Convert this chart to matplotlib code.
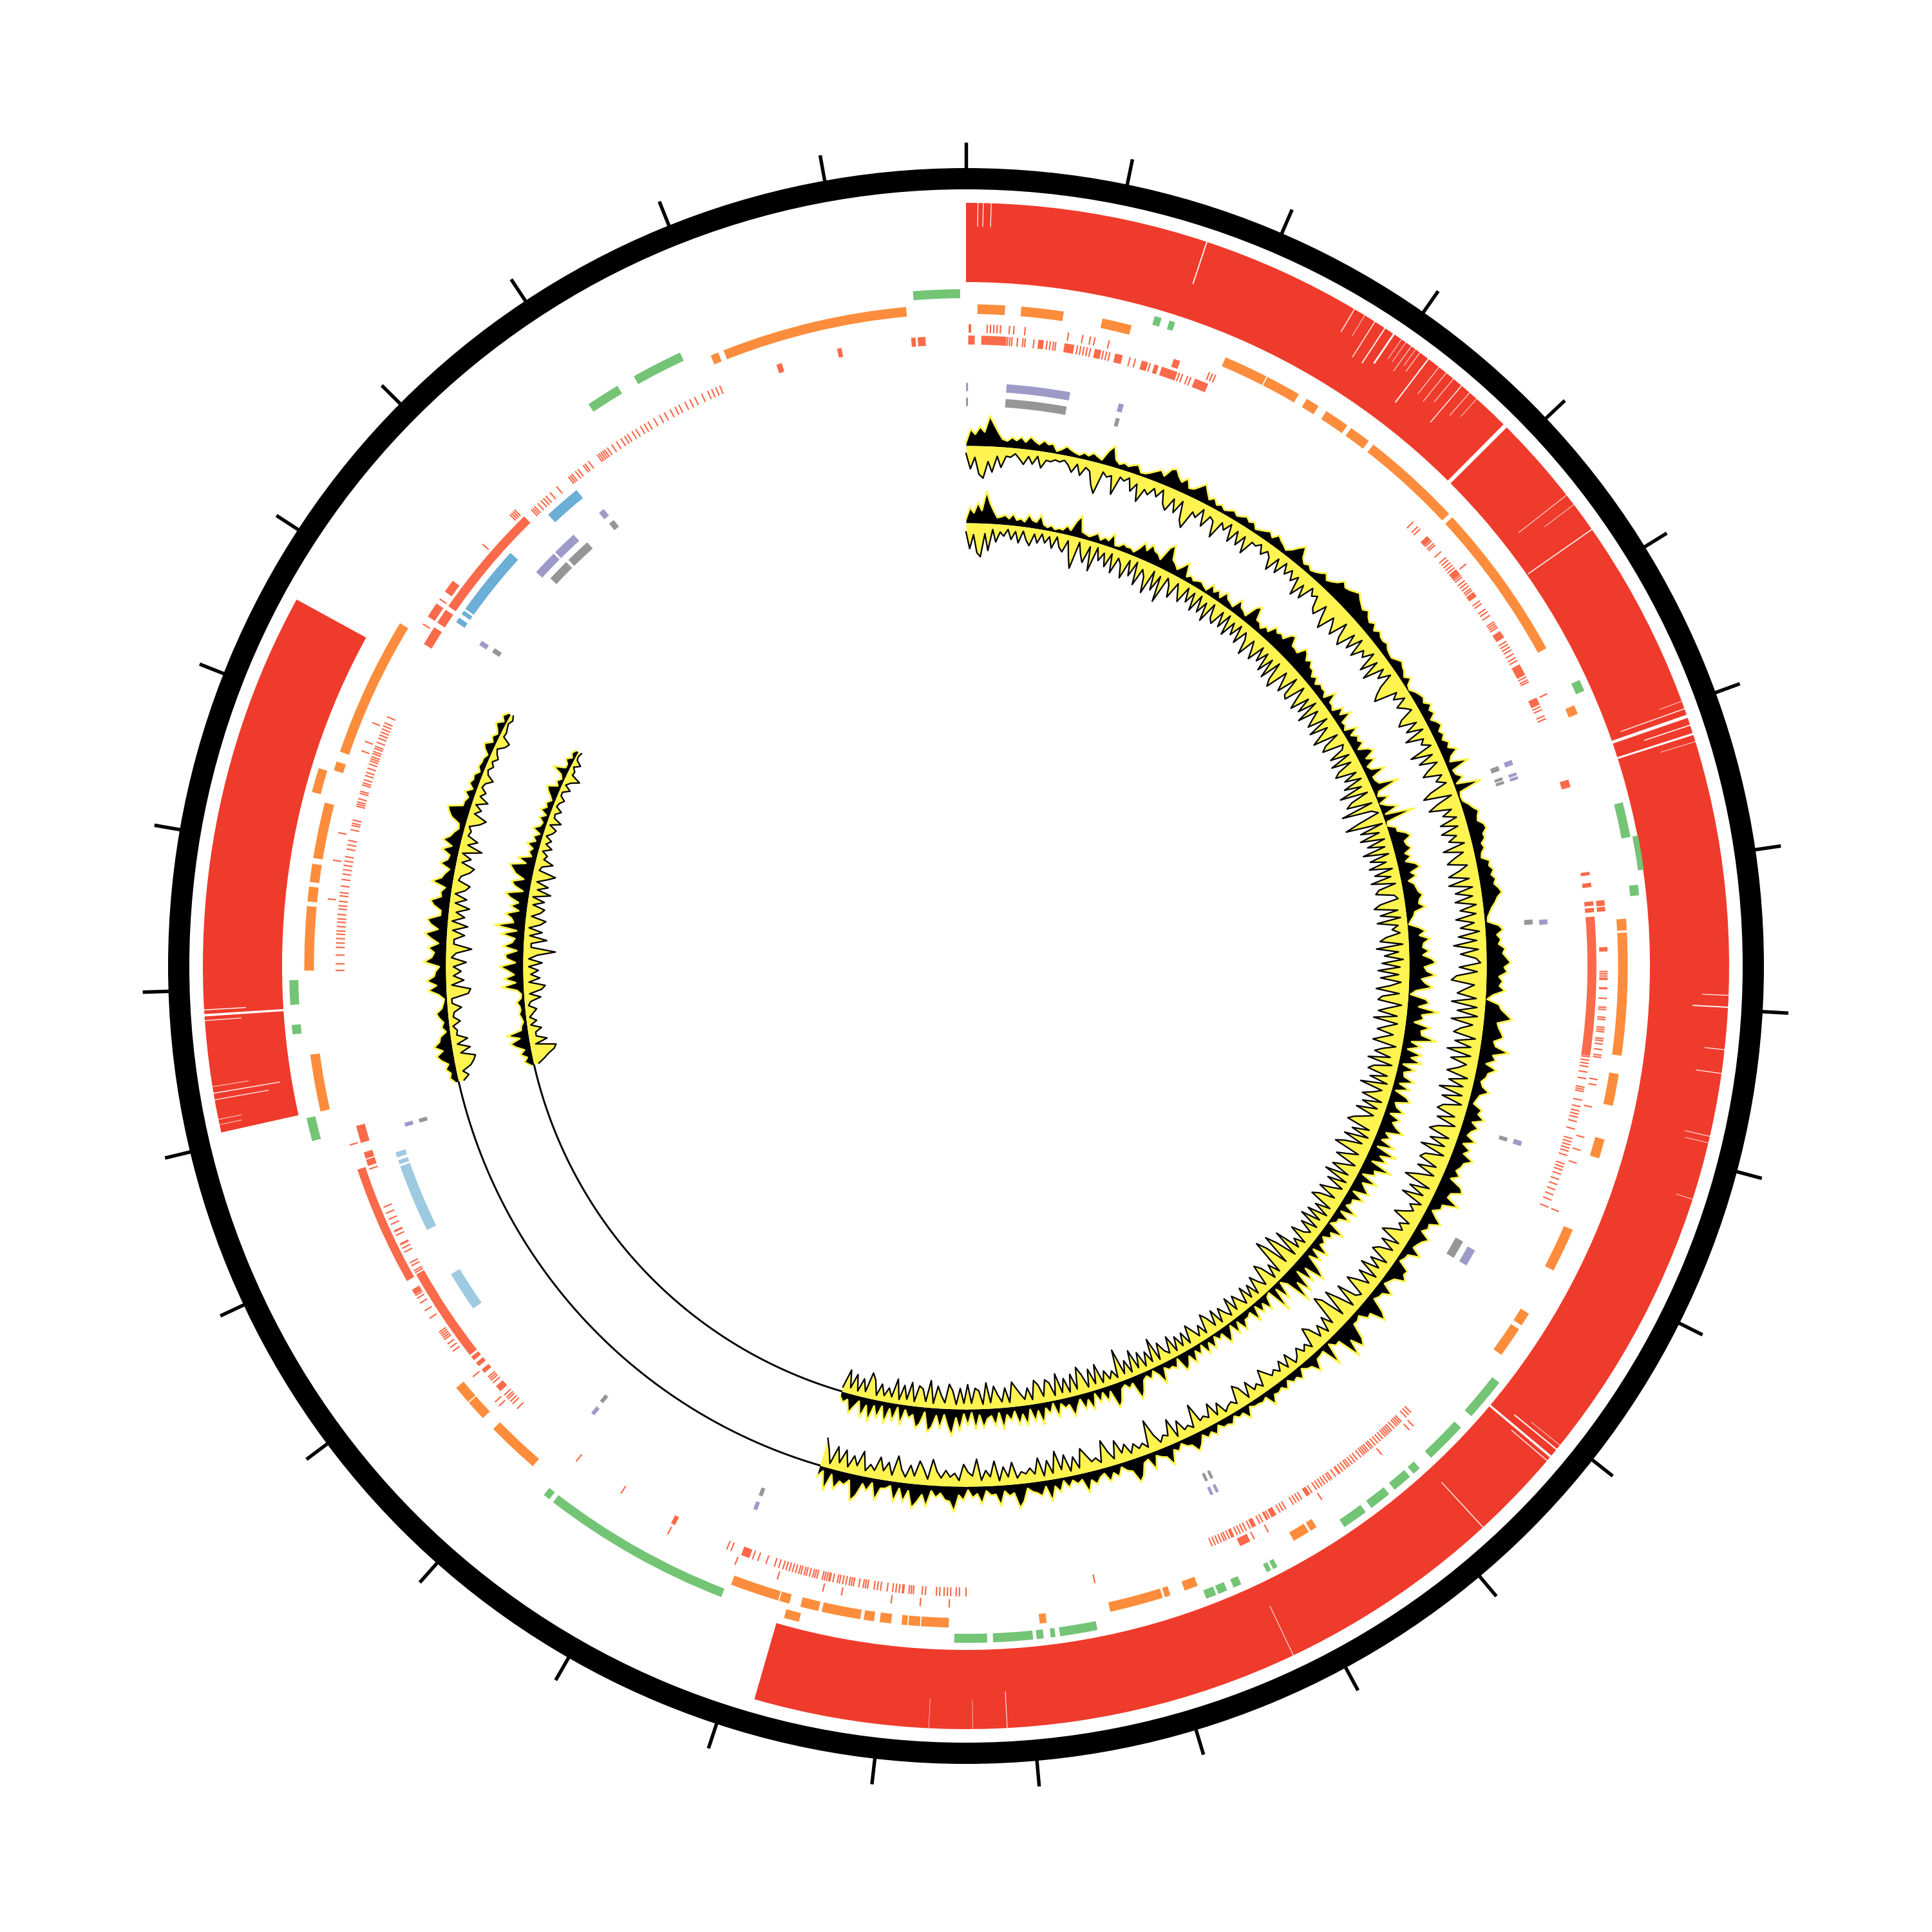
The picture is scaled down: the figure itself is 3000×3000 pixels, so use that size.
import matplotlib
matplotlib.use('Agg')
import matplotlib.pyplot as plt
import numpy as np

# all positions are degrees clockwise from the top of the circle
tick_count = 31
tick_step = 11.66

contig_spans = [(0, 196.1), (257.4, 298.7)]
wiggle_spans = [(0, 196.3), (257.2, 298.9)]
baseline_only_span = (196.3, 257.2)

# white cuts in the red track: position, inner radius, width
full_cuts = [(44.95, 0.33), (70.9, 0.25), (72.3, 0.16), (130.0, 0.18), (266.3, 0.18)]
partial_cuts = [
    (0.9, 1148, 0.06), (1.3, 1148, 0.06), (1.9, 1148, 0.06), (18.4, 1116, 0.09),
    (30.6, 1144, 0.07), (31.5, 1148, 0.04), (32.4, 1120, 0.07), (33.3, 1120, 0.09),
    (34.1, 1130, 0.14), (34.8, 1148, 0.04), (35.2, 1148, 0.04), (35.7, 1138, 0.05),
    (36.1, 1154, 0.04), (36.5, 1148, 0.05), (37.3, 1100, 0.1), (38.3, 1132, 0.05),
    (39.0, 1128, 0.05), (39.7, 1138, 0.05), (40.5, 1110, 0.07), (41.3, 1138, 0.05),
    (42.0, 1148, 0.04), (51.9, 1090, 0.05), (52.8, 1128, 0.04), (55.1, 1064, 0.08),
    (69.7, 1148, 0.04), (70.3, 1080, 0.07), (71.6, 1110, 0.08), (72.9, 1128, 0.04),
    (92.2, 1144, 0.06), (93.1, 1130, 0.09), (96.3, 1154, 0.06), (98.1, 1145, 0.06),
    (102.9, 1145, 0.05), (103.4, 1148, 0.04), (107.8, 1158, 0.04), (128.9, 1128, 0.04),
    (129.3, 1100, 0.1), (130.4, 1112, 0.07), (137.35, 1090, 0.07), (154.6, 1100, 0.05),
    (176.9, 1128, 0.05), (179.5, 1140, 0.03), (182.8, 1138, 0.03), (258.0, 1150, 0.04),
    (258.4, 1148, 0.04), (259.9, 1100, 0.06), (260.4, 1080, 0.07), (260.9, 1128, 0.04),
    (265.9, 1128, 0.06), (266.7, 1120, 0.07),
]

green_spans = [
    (355.5, 359.5), (16.2, 16.8), (17.5, 18.0), (65.0, 66.0), (76.0, 79.0), (83.1, 84.0),
    (128.0, 131.7), (133.0, 136.6), (137.9, 138.6), (139.0, 140.7), (141.3, 143.2),
    (143.8, 146.0), (152.6, 153.0), (153.2, 153.6), (156.0, 156.7), (157.3, 158.1),
    (158.3, 159.2), (168.8, 172.0), (172.4, 172.8), (173.4, 174.0), (174.3, 177.7),
    (178.2, 181.0), (201.2, 217.6), (218.0, 218.6), (255.0, 257.0), (264.2, 265.0),
    (266.7, 268.8), (326.1, 329.0), (330.6, 335.0),
]
green_edge_spans = [(79.0, 81.9)]
orange_outer_spans = [(194.3, 195.6), (284.9, 287.0)]
orange_spans = [
    (1.0, 3.4), (4.8, 8.5), (11.9, 14.5), (23.1, 27.0), (27.1, 30.2), (31.0, 32.2),
    (33.0, 35.2), (35.6, 37.5), (38.0, 46.9), (47.3, 61.3), (66.8, 67.6), (85.9, 86.9),
    (87.1, 97.8), (99.4, 102.2), (105.2, 106.9), (113.5, 117.4), (121.7, 122.9),
    (123.3, 126.0), (148.0, 148.6), (148.8, 150.3), (159.5, 160.7), (162.0, 162.5),
    (162.7, 167.4), (173.0, 173.6), (181.5, 183.9), (184.0, 185.0), (185.1, 185.6),
    (186.5, 187.5), (188.0, 188.9), (189.2, 192.6), (192.9, 194.5), (195.5, 196.4),
    (196.5, 200.8), (220.9, 225.6), (226.9, 228.7), (228.8, 230.4), (257.3, 262.3),
    (269.6, 275.2), (275.6, 276.9), (277.3, 278.9), (279.4, 284.3), (287.2, 288.0),
    (288.9, 301.2), (337.3, 338.0), (338.5, 354.8),
]

# upper row of thin marks and its wider blocks
upper_row_blocks = [
    (18.9, 19.5), (84.1, 84.6), (84.7, 85.1), (88.3, 88.7), (91.9, 92.1), (153.7, 154.7),
    (239.2, 239.7), (240.6, 251.5), (303.0, 304.4), (305.7, 306.9),
]
upper_row_ticks = [
    0.3, 0.4, 1.9, 2.2, 2.5, 2.8, 3.1, 3.9, 4.3, 5.3, 9.2, 10.5, 11.2, 11.6, 12.9, 22.3,
    22.6, 22.9, 51.2, 64.9, 90.5, 90.7, 90.9, 91.1, 91.2, 92.9, 93.7, 93.9, 94.6, 94.8, 95.5,
    95.7, 95.9, 96.5, 96.7, 97.0, 97.5, 98.0, 98.2, 100.2, 100.7, 102.7, 105.5, 106.7, 107.9,
    112.5, 135.8, 136.3, 139.6, 146.3, 153.3, 151.9, 181.5, 184.1, 186.7, 191.2, 192.9,
    197.1, 201.1, 207.7, 226.7, 227.2, 230.2, 233.1, 233.5, 233.9, 234.4, 234.6, 234.8,
    235.0, 235.2, 236.7, 237.5, 238.3, 238.8, 239.1, 253.8, 276.0, 279.5, 282.0, 289.6,
    290.5, 292.3, 302.2, 304.9, 311.1, 314.7, 314.9, 315.1, 315.3,
]
# lower row of thin marks and its wider blocks
lower_row_blocks = [
    (0.2, 0.8), (1.4, 3.7), (6.6, 7.1), (9.0, 9.9), (11.8, 12.4), (13.7, 14.4), (16.2, 16.8),
    (17.4, 17.8), (18.1, 19.6), (21.3, 22.6), (47.0, 47.5), (51.0, 51.6), (53.6, 54.1),
    (57.9, 58.6), (61.4, 62.5), (64.8, 65.5), (72.8, 73.5), (81.4, 81.7), (82.4, 82.8),
    (84.1, 84.5), (84.7, 85.1), (85.5, 98.2), (154.8, 155.1), (146.9, 147.3), (152.6, 153.0),
    (150.5, 151.0), (200.1, 200.9), (207.5, 207.9), (227.6, 228.2), (229.8, 230.2),
    (230.6, 231.0), (231.3, 231.7), (231.9, 240.7), (245.0, 245.2), (243.7, 243.9),
    (251.5, 252.1), (252.2, 252.8), (253.7, 255.3), (300.7, 302.5), (303.0, 304.4),
    (304.8, 315.5), (342.5, 343.0), (348.2, 348.6), (355.0, 355.4), (355.6, 356.3),
]
lower_row_ticks = [
    3.8, 4.0, 4.2, 4.7, 5.2, 5.4, 6.2, 7.4, 7.7, 8.0, 8.2, 10.2, 10.5, 10.8, 11.1, 11.4,
    12.6, 12.9, 13.2, 15.1, 15.6, 17.0, 19.8, 20.1, 20.6, 20.9, 45.2, 45.8, 46.1, 47.6, 47.9,
    48.1, 48.9, 49.6, 49.9, 50.2, 50.5, 50.8, 51.7, 51.9, 52.3, 52.6, 52.9, 53.2, 53.4, 54.6,
    54.9, 55.5, 55.8, 56.2, 56.9, 57.1, 57.3, 57.5, 59.0, 59.3, 59.6, 59.9, 60.3, 60.7, 61.0,
    62.7, 63.0, 63.2, 65.7, 66.0, 66.6, 66.9, 98.3, 98.6, 98.9, 99.2, 99.7, 100.3, 101.1,
    101.3, 101.5, 102.3, 102.9, 103.3, 103.6, 103.9, 104.3, 105.0, 105.9, 106.2, 106.5, 106.8,
    107.1, 107.5, 108.3, 108.6, 108.9, 109.3, 109.8, 110.3, 110.8, 111.3, 111.8, 112.5,
    135.1, 135.4, 135.7, 136.3, 136.5, 136.7, 136.9, 137.2, 137.5, 137.7, 137.9, 138.1, 138.3,
    138.6, 138.9, 139.2, 139.5, 139.8, 140.0, 140.3, 140.5, 140.7, 140.9, 141.2, 141.6, 141.9,
    142.2, 142.5, 142.7, 143.0, 143.3, 143.6, 143.7, 144.1, 144.5, 144.7, 145.0, 145.3, 145.6,
    145.9, 146.2, 146.7, 147.8, 148.1, 148.4, 148.7, 149.5, 149.8, 150.1, 151.2, 151.4, 151.5,
    151.9, 152.2, 153.2, 153.6, 153.9, 154.2, 154.5, 155.3, 155.6, 155.8, 156.1, 156.4, 156.7,
    157.0, 168.2, 180.0, 180.6, 180.9, 181.4, 181.7, 182.0, 182.4, 182.7, 183.7, 184.0, 184.8,
    185.0, 185.2, 185.7, 185.8, 186.1, 186.4, 186.7, 187.2, 187.8, 188.1, 188.4, 189.0, 189.2,
    189.4, 189.8, 190.3, 190.5, 190.7, 191.0, 191.3, 191.6, 191.8, 192.2, 192.5, 192.6, 192.8,
    193.0, 193.2, 193.7, 193.9, 194.1, 194.4, 194.7, 194.9, 195.2, 195.4, 195.7, 196.0, 196.3,
    196.6, 196.9, 197.3, 197.7, 198.5, 199.3, 199.8, 201.9, 202.3, 213.2, 218.2, 225.4, 226.0,
    226.3, 226.6, 226.8, 227.1, 228.6, 228.9, 229.1, 229.3, 240.9, 241.1, 241.6, 241.9, 243.0,
    243.4, 244.7, 245.8, 246.3, 246.9, 247.5, 251.2, 269.6, 270.2, 271.0, 271.7, 272.1, 272.5,
    272.9, 273.2, 273.6, 274.0, 274.3, 274.7, 275.2, 275.5, 275.9, 276.4, 276.7, 277.3, 277.9,
    278.4, 278.8, 279.2, 279.6, 280.0, 280.7, 281.1, 281.5, 282.5, 282.9, 283.1, 283.4, 284.7,
    284.9, 285.1, 285.4, 285.9, 286.1, 286.7, 286.9, 287.2, 287.6, 287.9, 288.3, 288.7, 289.0,
    289.2, 289.4, 289.7, 289.9, 290.2, 290.4, 290.8, 291.2, 291.5, 291.8, 292.1, 292.4, 292.7,
    293.3, 316.4, 316.6, 316.8, 317.2, 317.6, 317.9, 318.2, 318.7, 319.5, 320.9, 321.1, 321.3,
    321.7, 322.0, 322.6, 322.8, 323.2, 324.2, 324.4, 324.6, 324.8, 325.0, 325.3, 325.8, 326.3,
    326.8, 327.2, 327.5, 328.0, 328.4, 328.9, 329.3, 329.7, 330.3, 330.9, 331.4, 332.0, 332.5,
    332.9, 333.5, 334.0, 334.5, 335.2, 335.8, 336.2, 336.6, 337.0,
]

blue_spans = [(304.0, 304.5), (304.9, 305.3), (305.5, 312.2), (317.2, 320.7)]
light_blue_spans = [(235.2, 239.1), (243.9, 250.5), (250.7, 251.1), (251.4, 251.9)]
purple_spans = [
    (0.0, 0.2), (4.0, 10.3), (15.2, 15.7), (69.3, 69.8), (70.6, 70.9), (71.0, 71.3),
    (85.4, 85.9), (107.5, 108.0), (119.2, 120.9), (154.3, 154.6), (154.9, 155.2),
    (201.0, 201.4), (219.6, 220.0), (254.0, 254.4), (303.4, 303.9), (312.5, 315.0),
    (315.2, 317.7), (321.0, 321.6),
]
grey_spans = [
    (0.0, 0.2), (4.0, 10.2), (15.3, 15.7), (69.4, 69.9), (70.6, 70.9), (71.0, 71.3),
    (85.3, 85.8), (107.6, 108.0), (119.0, 120.9), (154.2, 154.5), (154.8, 155.1),
    (201.0, 201.4), (219.7, 220.1), (254.0, 254.4), (303.5, 304.0), (313.0, 315.3),
    (315.6, 318.2), (321.1, 321.7),
]

# wiggle amplitudes, one value per half degree or so, estimated off the crops
outer_up_a = [
    5,26,18,30,22,47,34,22,12,10,16,12,18,11,20,14,10,17,12,14,
    4,8,14,10,7,5,10,7,13,9,6,22,32,12,7,11,8,12,15,5,
    6,10,15,20,13,27,30,21,15,24,11,13,20,28,18,9,15,7,11,6,
    9,13,8,11,15,10,14,6,9,12,16,10,19,14,11,7,13,22,30,14,
    8,12,7,10,14,20,12,16,21,30,24,26,30,34,28,24,20,26,19,15,
    21,12,19,14,13,16,11,9,8,13,18,14,12,7,15,5,3,9,13,16,
    12,21,14,19,9,16,20,12,17,11,19,14,26,13,8,36,7,9,18,5,
    42,6,4,5,12,17,24,20,18,26,28,21,22,15,18,12,10,22,19,25,
    20,26,22,28,32,24,20,14,10,6,5,22,28,18,24,20,30,26,32,38,
    28,33,20,26,21,30,12,3,22,26,35,44,22,25,30,34,20,24,46,22,
    28,14,32,20,18,12,16,28,15,12,9,24,20,32,15,27,18,14,30,12,
    26,18,36,24,22,17,26,14,34,40,24,22,44,20,21,10,20,32,16,18,
    11,28,20,16,13,30,12,11,7,26,24,32,16,12,8,28,15,14,10,32,
    44,20,22,9,13,12,36,46,26,52,14,15,6,40,8,10,11,28,14,12,
    6,20,12,15,7,18,10,14,12,26,8,12,10,10,6,22,9,12,6,16,
    12,13,6,18,10,16,8,20,28,15,13,6,15,10,32,16,13,8,28,9,
    12,30,38,18,15,7,20,12,24,9,13,22,14,32,10,15,8,18,6,22,
    12,34,10,24,18,15,9,28,38,14,18,10,32,14,15,8,28,12,18,6,
    22,14,40,24,22,12,19,9,34,16,28,38,12,30,10,32,8,13,14,34,
    8,22,12,32,42,11,20,16,30,9,36,7,18,
]
outer_down_a = [
    12,36,18,44,50,24,40,15,32,14,15,9,16,24,11,22,9,26,13,14,
    10,12,8,14,24,10,26,12,16,36,48,12,18,14,42,12,16,9,28,14,
    40,18,24,11,22,8,28,36,14,34,12,40,50,20,26,9,34,14,18,42,
    13,22,8,34,12,32,13,38,14,16,9,22,12,18,36,11,32,9,24,12,
    26,14,42,18,38,12,22,16,34,40,18,36,50,22,32,44,14,36,46,16,
    38,12,40,20,28,11,42,15,46,13,28,9,32,44,52,16,26,10,28,18,
    10,32,40,13,34,9,42,15,22,9,46,13,38,11,28,40,12,24,10,38,
    52,9,34,50,16,32,12,40,14,42,20,34,11,46,16,32,44,14,28,46,
    15,48,12,40,14,42,10,36,12,44,16,38,9,42,14,50,12,40,16,9,
    42,14,46,54,18,32,44,14,52,12,42,10,50,16,34,44,9,40,14,50,
    12,42,16,28,44,10,38,14,50,12,42,9,36,44,14,40,9,34,46,12,
    40,14,50,10,38,44,14,42,12,36,54,10,40,14,46,10,26,16,28,42,
    12,26,16,32,44,10,36,12,32,40,9,34,14,42,9,36,12,30,44,10,
    16,46,9,34,54,12,50,60,14,32,9,28,12,32,40,9,20,12,24,13,
    7,28,9,26,12,20,14,24,34,9,18,12,30,7,28,36,9,16,13,7,
    26,9,32,12,18,14,44,9,16,12,30,7,38,14,18,9,24,50,9,18,
    12,22,9,26,14,36,9,22,42,9,18,14,26,38,9,28,7,34,12,42,
    9,30,7,36,12,22,14,18,9,34,12,28,7,38,14,24,9,42,16,22,
    34,9,20,14,24,12,22,40,9,24,36,12,28,9,20,40,9,28,14,34,
    12,20,9,38,14,28,9,34,12,36,7,28,44,
]
inner_up_a = [
    6,24,16,32,20,50,32,20,10,12,15,10,18,9,12,8,20,12,10,22,
    8,5,9,4,7,6,14,8,24,34,10,8,6,10,15,6,12,9,22,5,
    6,12,9,10,6,14,26,16,28,20,18,12,34,42,20,16,10,18,28,7,
    12,7,10,12,8,5,18,9,16,7,20,12,10,7,24,14,12,8,28,34,
    14,14,8,16,12,26,20,24,20,32,36,22,22,20,34,30,22,28,20,20,
    12,18,9,16,13,14,7,26,10,10,6,22,12,28,8,10,5,24,9,18,
    14,20,8,22,28,12,24,8,12,32,9,10,14,44,8,4,20,3,12,28,
    5,50,4,2,14,14,26,32,20,22,28,16,24,14,28,34,18,26,12,20,
    22,24,30,24,22,32,14,12,7,3,18,28,18,34,24,22,32,22,36,42,
    24,28,42,20,26,38,12,4,28,34,18,50,24,28,14,40,26,28,52,14,
    30,10,34,18,36,8,28,12,14,32,10,28,7,26,34,12,16,30,10,28,
    18,26,40,14,24,12,36,10,44,20,34,12,48,22,26,8,36,14,22,32,
    8,30,14,16,10,32,8,28,12,12,5,34,14,20,8,16,12,32,8,28,
    10,34,50,18,40,12,48,24,56,14,5,32,8,44,4,7,26,10,22,6,
    28,8,12,12,26,7,24,5,18,28,8,14,5,22,8,24,5,18,8,26,
    10,22,28,5,18,12,14,8,32,14,5,16,8,12,28,38,10,16,8,12,
    30,38,10,24,8,22,6,30,12,26,8,18,32,12,16,8,28,5,20,10,
    34,12,28,8,32,14,30,8,22,12,34,8,28,12,16,30,10,32,6,26,
    8,34,14,42,28,10,32,12,30,38,8,26,34,14,20,8,32,6,28,10,
    34,8,28,10,36,12,32,8,18,30,10,16,8,
]
inner_down_a = [
    14,40,18,46,52,16,42,9,28,12,18,7,22,9,26,7,20,28,9,22,
    7,20,9,26,7,22,28,9,32,50,7,24,36,9,46,7,26,12,32,9,
    38,12,20,40,9,32,7,42,14,24,48,9,38,12,52,9,18,36,9,22,
    34,7,28,9,36,7,32,12,40,7,28,34,9,32,7,38,12,30,9,36,
    12,22,44,14,26,40,12,34,14,42,16,46,12,40,50,14,28,42,9,38,
    42,9,28,44,14,38,9,46,14,28,40,9,44,16,32,48,9,34,42,9,
    14,38,9,42,12,36,44,12,34,9,40,14,52,9,38,48,9,60,14,5,
    38,62,5,42,14,46,9,38,12,48,9,40,16,44,9,38,14,46,9,36,
    42,14,9,38,48,12,40,9,46,14,24,12,34,44,9,50,16,38,9,42,
    14,48,16,44,12,28,50,14,40,46,9,28,44,14,50,12,28,42,16,32,
    46,9,28,40,14,48,9,36,44,12,38,9,50,14,26,42,9,38,12,44,
    14,28,42,50,12,38,9,46,14,40,54,12,28,44,9,26,42,12,48,9,
    38,9,24,42,12,36,46,9,32,7,38,12,42,9,34,12,20,40,9,26,
    12,52,9,42,60,12,48,64,9,28,7,32,42,9,20,34,7,28,9,32,
    7,18,30,9,34,7,16,28,7,32,9,26,36,7,24,9,22,34,7,28,
    9,28,7,34,9,16,32,7,44,9,28,7,32,9,40,7,28,9,50,7,
    20,9,24,7,38,9,34,7,28,42,9,34,7,30,9,40,7,28,34,9,
    28,36,7,26,9,18,28,38,7,30,9,20,34,9,40,7,28,32,9,38,
    9,32,7,28,38,9,20,34,7,42,9,28,32,7,36,9,30,7,38,9,
    22,9,26,7,30,40,9,28,7,32,9,36,7,
]
outer_up_b = [
    6,12,9,16,10,20,26,15,28,18,16,6,12,8,14,18,9,6,4,12,
    28,15,30,18,16,10,34,22,18,28,12,24,34,14,26,32,12,12,24,30,
    14,16,10,32,18,14,8,24,14,12,26,12,28,18,14,8,10,24,30,34,
    12,12,8,16,6,14,10,12,5,10,8,8,4,12,16,5,10,4,8,14,4,10,4,
]
outer_down_b = [
    9,18,10,24,30,34,12,28,9,26,10,12,6,18,8,10,22,8,8,34,
    38,9,28,12,24,12,32,9,16,40,12,12,28,9,32,7,26,12,32,9,
    26,7,22,28,9,12,24,30,9,22,7,36,12,26,9,12,7,22,30,9,
    18,7,24,9,16,7,10,20,9,6,12,7,14,9,6,16,20,7,8,6,4,8,5,
]
inner_up_b = [
    6,14,8,18,10,22,30,14,34,10,9,5,7,10,7,8,12,5,4,10,
    34,12,30,14,24,36,12,26,28,10,32,18,14,36,12,47,18,22,32,12,
    26,14,28,36,10,24,30,12,26,32,38,14,28,8,14,9,20,8,14,5,
    18,8,6,14,5,16,8,12,5,10,16,20,5,10,4,8,24,6,6,12,4,8,4,
]
inner_down_b = [
    8,18,26,36,40,9,28,12,12,22,6,16,6,12,18,6,10,26,9,28,
    34,9,26,12,24,9,30,9,22,50,12,12,36,9,28,7,24,32,9,22,
    28,9,26,7,34,12,28,9,24,36,9,12,28,12,16,7,20,9,16,6,
    14,18,6,22,9,8,16,6,8,14,6,6,16,6,12,24,9,10,5,14,5,4,6,
]

# track radii, in pixels of the 3000 px picture
ring_r = (1206, 1239)
tick_top = 1279
red_r = (1062, 1185)
green_edge_r = (1054, 1063)
green_r = (1037, 1051)
orange_r = (1012.5, 1027.5)
upper_row_r = (983.5, 996.5)
lower_row_r = (965, 979)
blue_r = (939, 955)
light_blue_r = (916, 932)
purple_r = (892.5, 905.5)
grey_r = (869.5, 882.5)
outer_base = 808
inner_base = 688

RED = '#EF3B2C'
GREEN = '#74C476'
ORANGE = '#FD8D3C'
TOMATO = '#FB6A4A'
BLUE = '#6BAED6'
LIGHT_BLUE = '#9ECAE1'
PURPLE = '#9E9AC8'
GREY = '#969696'
YELLOW = '#FFF44F'


def draw_spans(ax, spans, r_range, color, zorder=2):
    spans = np.array(spans, dtype=float)
    ax.bar(np.radians(spans[:, 0]), r_range[1] - r_range[0], width=np.radians(spans[:, 1] - spans[:, 0]),
           bottom=r_range[0], align='edge', color=color, linewidth=0, zorder=zorder)


def draw_ticks(ax, positions, r_range, color, width=0.13):
    positions = np.array(positions, dtype=float)
    ax.bar(np.radians(positions), r_range[1] - r_range[0], width=np.radians(width),
           bottom=r_range[0], color=color, linewidth=0, zorder=2)


def draw_wiggle(ax, span, up, down, base):
    theta = np.radians(np.linspace(span[0], span[1], len(up)))
    up = np.array(up, dtype=float)
    down = np.array(down, dtype=float)
    ax.fill_between(theta, base, base + up, color='black', linewidth=0, zorder=3)
    ax.plot(theta, base + up, color=YELLOW, lw=0.7, zorder=4)
    ax.fill_between(theta, base - down, base, color=YELLOW, linewidth=0, zorder=3)
    ax.plot(theta, base - down, color='black', lw=0.55, zorder=4)


fig = plt.figure(figsize=(10, 10), dpi=300)
ax = fig.add_axes([0, 0, 1, 1], projection='polar')
ax.set_theta_zero_location('N')
ax.set_theta_direction(-1)
ax.set_ylim(0, 1500)
ax.set_axis_off()

# scale ring and its ticks
ax.bar(np.radians(180), ring_r[1] - ring_r[0], width=2 * np.pi, bottom=ring_r[0], color='black', linewidth=0)
ax.vlines(np.radians(np.arange(tick_count) * tick_step), ring_r[1] - 2, tick_top, color='black', lw=1.3)

# red track with its white cuts
draw_spans(ax, contig_spans, red_r, RED)
cuts = np.array(full_cuts)
ax.bar(np.radians(cuts[:, 0]), red_r[1] - red_r[0] + 4, width=np.radians(cuts[:, 1]), bottom=red_r[0] - 2,
       color='white', linewidth=0, zorder=2.5)
cuts = np.array(partial_cuts)
ax.bar(np.radians(cuts[:, 0]), red_r[1] + 2 - cuts[:, 1], width=np.radians(cuts[:, 2]), bottom=cuts[:, 1],
       color='white', linewidth=0, zorder=2.5)

draw_spans(ax, green_spans, green_r, GREEN)
draw_spans(ax, green_edge_spans, green_edge_r, GREEN)
draw_spans(ax, orange_outer_spans, green_r, ORANGE)
draw_spans(ax, orange_spans, orange_r, ORANGE)
draw_spans(ax, upper_row_blocks, upper_row_r, TOMATO)
draw_ticks(ax, upper_row_ticks, upper_row_r, TOMATO)
draw_spans(ax, lower_row_blocks, lower_row_r, TOMATO)
draw_ticks(ax, lower_row_ticks, lower_row_r, TOMATO)
draw_spans(ax, blue_spans, blue_r, BLUE)
draw_spans(ax, light_blue_spans, light_blue_r, LIGHT_BLUE)
draw_spans(ax, purple_spans, purple_r, PURPLE)
draw_spans(ax, grey_spans, grey_r, GREY)

# wiggle tracks, the middle stretch has no values and only the base line
gap = np.radians(np.linspace(baseline_only_span[0], baseline_only_span[1], 200))
for base in [outer_base, inner_base]:
    ax.plot(gap, np.full(gap.shape, base), color='black', lw=0.7, zorder=3)

draw_wiggle(ax, wiggle_spans[0], outer_up_a, outer_down_a, outer_base)
draw_wiggle(ax, wiggle_spans[1], outer_up_b, outer_down_b, outer_base)
draw_wiggle(ax, wiggle_spans[0], inner_up_a, inner_down_a, inner_base)
draw_wiggle(ax, wiggle_spans[1], inner_up_b, inner_down_b, inner_base)

ax.set_ylim(0, 1500)
fig.savefig('out.png', dpi=300, facecolor='white')
